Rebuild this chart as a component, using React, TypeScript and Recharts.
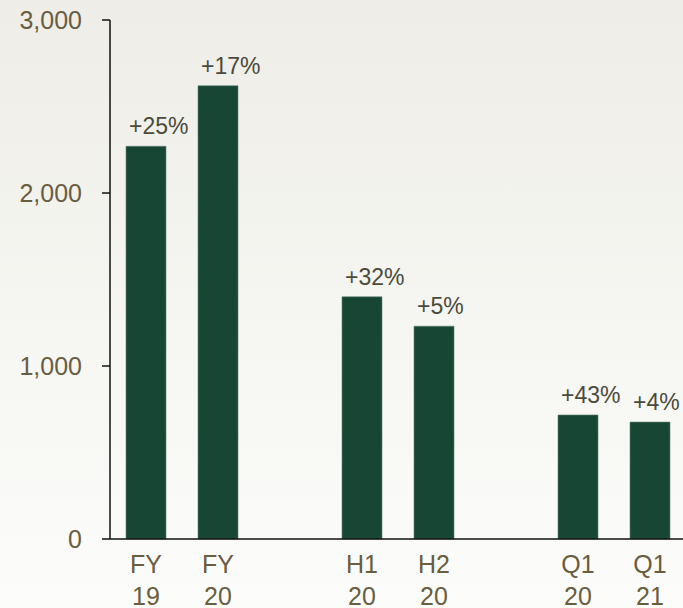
import { BarChart, Bar, XAxis, YAxis, LabelList } from 'recharts';

// periods, with blank slots between the FY / H / Q groups
const periods = ['FY 19', 'FY 20', '', 'H1 20', 'H2 20', ' ', 'Q1 20', 'Q1 21'];
const values = [2270, 2620, null, 1400, 1230, null, 717, 676];
const growth = ['+25%', '+17%', '', '+32%', '+5%', '', '+43%', '+4%'];
const yTicks = [0, 1000, 2000, 3000];

const data = periods.map((period, i) => ({
    period,
    value: values[i],
    growth: growth[i],
}));

const BAR_COLOR = '#174634';
const TICK_COLOR = '#6a5d3f';
const LABEL_COLOR = '#4b4a3b';
const FONT = '"Liberation Sans", Arial, sans-serif';

const PeriodTick = (props: any) => {
    const { x, y, payload } = props;
    const parts = String(payload.value).trim().split(' ');
    if (!parts[0]) return null;
    return (
        <text x={x} y={y} textAnchor="middle" fill={TICK_COLOR} fontSize={25} fontFamily={FONT}>
            <tspan x={x} dy={34}>{parts[0]}</tspan>
            <tspan x={x} dy={32}>{parts[1]}</tspan>
        </text>
    );
};

const GrowthLabel = (props: any) => {
    const { x, y, value } = props;
    if (!value || x == null || y == null) return null;
    return (
        <text x={Number(x) + 3} y={Number(y) - 12} textAnchor="start" fill={LABEL_COLOR} fontSize={23} fontFamily={FONT}>
            {value}
        </text>
    );
};

export default function App() {
    return (
        <div
            style={{
                position: 'fixed',
                left: 0,
                top: 0,
                width: 683,
                height: 608,
                overflow: 'hidden',
                background: 'linear-gradient(to bottom, #eeede7 0%, #f6f6f2 55%, #fcfcfb 100%)',
            }}
        >
            <BarChart width={690} height={608} data={data} margin={{ top: 20, right: 4, bottom: 0, left: 0 }}>
                <XAxis
                    dataKey="period"
                    height={69}
                    tickLine={false}
                    tickSize={0}
                    tickMargin={0}
                    axisLine={{ stroke: '#111', strokeWidth: 1.5 }}
                    tick={<PeriodTick />}
                    interval={0}
                />
                <YAxis
                    width={110}
                    domain={[0, 3000]}
                    ticks={yTicks}
                    tickSize={8}
                    tickMargin={20}
                    axisLine={{ stroke: '#111', strokeWidth: 1.5 }}
                    tickLine={{ stroke: '#111', strokeWidth: 1.5 }}
                    tick={{ fill: TICK_COLOR, fontSize: 25, fontFamily: FONT }}
                    tickFormatter={(v: number) => v.toLocaleString('en-US')}
                />
                <Bar dataKey="value" fill={BAR_COLOR} stroke="#5f8373" strokeWidth={0.6} barSize={40} isAnimationActive={false}>
                    <LabelList dataKey="growth" content={<GrowthLabel />} />
                </Bar>
            </BarChart>
        </div>
    );
}
